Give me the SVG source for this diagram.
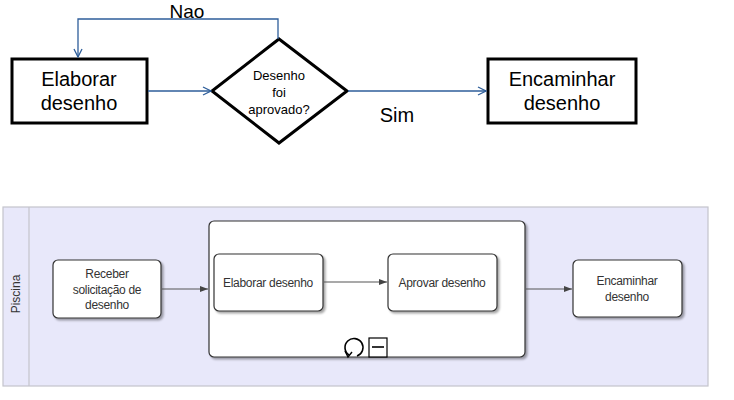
<svg xmlns="http://www.w3.org/2000/svg" width="734" height="400" viewBox="0 0 734 400">
<style>
.flow{fill:#fff;stroke:#000;stroke-width:3}
.big{font-family:"Liberation Sans",Arial,sans-serif;font-size:20px;fill:#000;text-anchor:middle}
.mid{font-family:"Liberation Sans",Arial,sans-serif;font-size:13px;fill:#000;text-anchor:middle}
.blue{fill:none;stroke:#2e5e9a;stroke-width:1.3}
.task{fill:#fff;stroke:#333;stroke-width:1.2}
.sm{font-family:"Liberation Sans",Arial,sans-serif;font-size:12px;fill:#333;text-anchor:middle;letter-spacing:-0.3px}
.grey{fill:none;stroke:#555;stroke-width:1.2}
</style>
<defs>
<marker id="open" markerWidth="10" markerHeight="10" refX="9" refY="5" orient="auto" markerUnits="userSpaceOnUse">
<path d="M1,1 L9,5 L1,9" fill="none" stroke="#2e5e9a" stroke-width="1.3"/>
</marker>
<marker id="tri" markerWidth="10" markerHeight="8" refX="9" refY="4" orient="auto" markerUnits="userSpaceOnUse">
<path d="M1,1 L9,4 L1,7 Z" fill="#444"/>
</marker>
<filter id="sh" x="-10%" y="-10%" width="130%" height="130%">
<feDropShadow dx="2" dy="2" stdDeviation="1.2" flood-color="#000" flood-opacity="0.35"/>
</filter>
</defs>
<rect x="0" y="0" width="734" height="400" fill="#fff"/>

<g id="elaborar-top">
<rect class="flow" x="12" y="59" width="135" height="64"/>
<text class="big" x="79" y="86">Elaborar</text>
<text class="big" x="79" y="110">desenho</text>
</g>

<g id="decisao">
<polygon class="flow" points="279,39 347,91 279,143 212,91"/>
<text class="mid" x="279" y="80">Desenho</text>
<text class="mid" x="279" y="97">foi</text>
<text class="mid" x="279" y="114">aprovado?</text>
</g>

<g id="encaminhar-top">
<rect class="flow" x="488" y="59" width="148" height="64"/>
<text class="big" x="562" y="86">Encaminhar</text>
<text class="big" x="562" y="110">desenho</text>
</g>

<g id="pool">
<rect x="3" y="207" width="705" height="179" fill="#e8e8fa" stroke="#c4c4cc" stroke-width="1.2"/>
<line x1="29" y1="207" x2="29" y2="386" stroke="#c4c4cc" stroke-width="1.2"/>
<text class="sm" x="0" y="0" transform="translate(20,294) rotate(-90)" style="letter-spacing:0">Piscina</text>
</g>

<g id="receber">
<rect class="task" x="53" y="260" width="108" height="58" rx="5" filter="url(#sh)"/>
<text class="sm" x="107" y="278">Receber</text>
<text class="sm" x="107" y="294">solicitação de</text>
<text class="sm" x="107" y="309">desenho</text>
</g>

<g id="subprocesso">
<rect class="task" x="209" y="221" width="316" height="136" rx="5" filter="url(#sh)"/>
<path d="M349,355 A9,9 0 1 1 357,356" fill="none" stroke="#000" stroke-width="1.6"/>
<path d="M345,351 L348,357 L352,352" fill="none" stroke="#000" stroke-width="1.4"/>
<rect x="369" y="338" width="18" height="19" fill="#fff" stroke="#000" stroke-width="1.2"/>
<line x1="372" y1="347" x2="384" y2="347" stroke="#000" stroke-width="1.6"/>
</g>

<g id="elaborar-bottom">
<rect class="task" x="214" y="254" width="109" height="57" rx="5" filter="url(#sh)"/>
<text class="sm" x="268" y="287">Elaborar desenho</text>
</g>

<g id="aprovar">
<rect class="task" x="388" y="254" width="109" height="57" rx="5" filter="url(#sh)"/>
<text class="sm" x="442" y="287">Aprovar desenho</text>
</g>

<g id="encaminhar-bottom">
<rect class="task" x="573" y="260" width="109" height="57" rx="5" filter="url(#sh)"/>
<text class="sm" x="627" y="285">Encaminhar</text>
<text class="sm" x="627" y="301">desenho</text>
</g>

<g id="connectors">
<path class="blue" d="M148,91 H211" marker-end="url(#open)"/>
<path class="blue" d="M278,39 V19 H78 V57" marker-end="url(#open)"/>
<path class="blue" d="M348,91 H486" marker-end="url(#open)"/>
<text class="big" x="187" y="17.5" style="font-size:19px">Nao</text>
<text class="big" x="397" y="122">Sim</text>
<path class="grey" d="M162,289 H208" marker-end="url(#tri)"/>
<path class="grey" d="M324,282 H387" marker-end="url(#tri)"/>
<path class="grey" d="M526,289 H572" marker-end="url(#tri)"/>
</g>
</svg>
